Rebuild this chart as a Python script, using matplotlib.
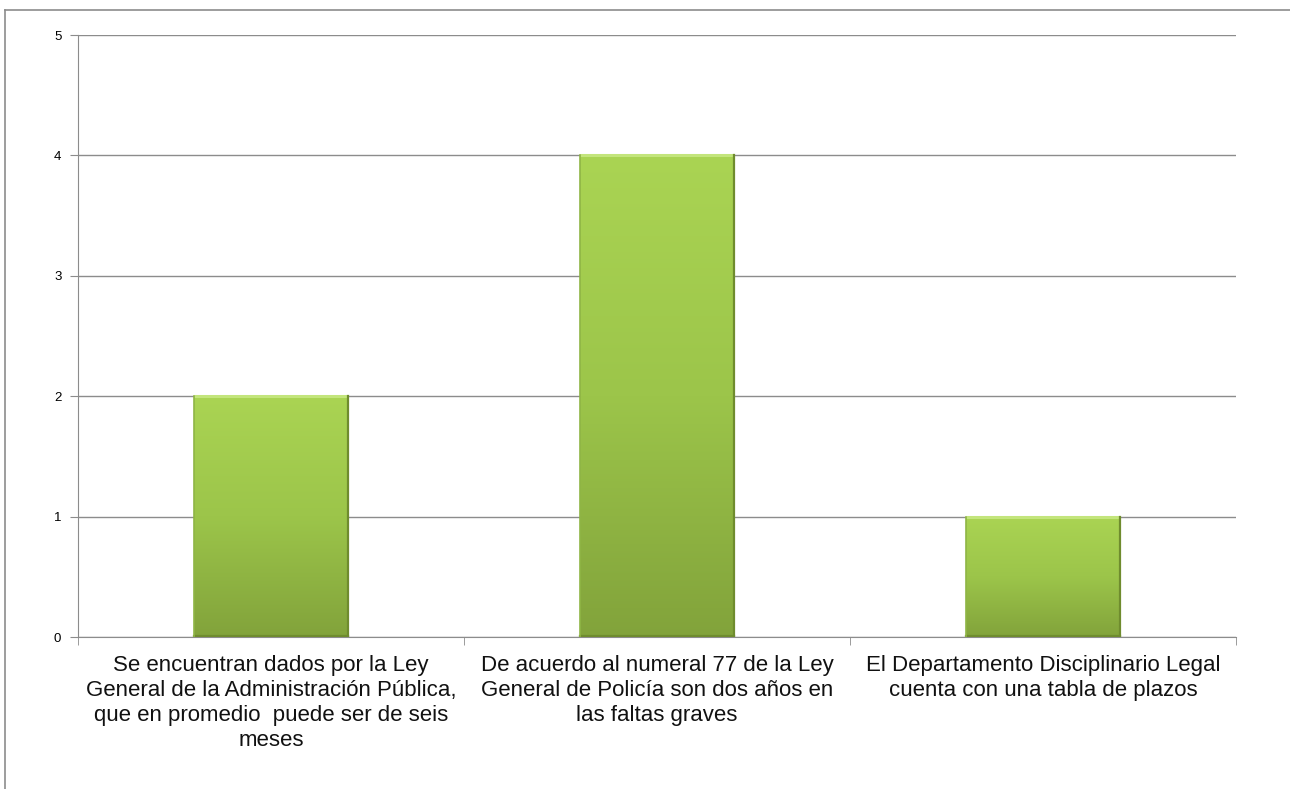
import numpy as np
import matplotlib.pyplot as plt
from matplotlib.lines import Line2D
from matplotlib.colors import LinearSegmentedColormap

plt.rcParams['font.family'] = ['Liberation Sans', 'DejaVu Sans']

categorias = [
    "Se encuentran dados por la Ley\nGeneral de la Administración Pública,\nque en promedio  puede ser de seis\nmeses",
    "De acuerdo al numeral 77 de la Ley\nGeneral de Policía son dos años en\nlas faltas graves",
    "El Departamento Disciplinario Legal\ncuenta con una tabla de plazos",
]
valores = [2, 4, 1]
y_ticks = [0, 1, 2, 3, 4, 5]

W, H = 1290, 789
fig = plt.figure(figsize=(W / 100, H / 100), dpi=100)
ax = fig.add_axes([78 / W, 1 - 637 / H, (1236 - 78) / W, (637 - 35) / H])

x = np.arange(len(valores))
ancho = 0.4
bars = ax.bar(x, valores, width=ancho, color="#98c24a", edgecolor="none", zorder=3)

# degradado vertical dentro de cada barra, con bisel sencillo
grad = np.linspace(0, 1, 256).reshape(-1, 1)
cmap = LinearSegmentedColormap.from_list("verde", ["#aad453", "#9cc54a", "#82a33b"])
for b in bars:
    x0, w, h = b.get_x(), b.get_width(), b.get_height()
    im = ax.imshow(grad, cmap=cmap, aspect="auto", extent=(x0, x0 + w, 0, h),
                   origin="upper", zorder=3.5)
    im.set_clip_path(b)
    ax.plot([x0, x0 + w], [h, h], color="#c3e57c", lw=2.2, zorder=4, solid_capstyle="butt")
    ax.plot([x0 + w, x0 + w], [0, h], color="#6f8c2e", lw=1.6, zorder=4)
    ax.plot([x0, x0 + w], [0.008, 0.008], color="#6f8c2e", lw=1.6, zorder=4)
    ax.plot([x0, x0], [0, h], color="#8fb545", lw=1.2, zorder=4)

ax.set_xlim(-0.5, len(valores) - 0.5)
ax.set_ylim(0, 5)
ax.set_yticks(y_ticks)
ax.yaxis.grid(True, color="#8c8c8c", linewidth=1.0, zorder=0)
ax.set_axisbelow(True)

for s in ["top", "right"]:
    ax.spines[s].set_visible(False)
ax.spines["left"].set_color("#8c8c8c")
ax.spines["bottom"].set_color("#8c8c8c")

ax.set_xticks(x)
ax.set_xticklabels(categorias, fontsize=16, color="#111111", linespacing=1.25)
ax.tick_params(axis="x", length=0, pad=13)
ax.set_xticks(np.arange(-0.5, len(valores)), minor=True)
ax.tick_params(axis="x", which="minor", length=6, color="#8c8c8c")
ax.tick_params(axis="y", labelsize=9.5, length=6, color="#8c8c8c", pad=6)

# borde del área del gráfico
fig.add_artist(Line2D([5 / W, 1], [1 - 10 / H, 1 - 10 / H], color="#8c8c8c", lw=1.2))
fig.add_artist(Line2D([5 / W, 5 / W], [0, 1 - 10 / H], color="#8c8c8c", lw=1.2))

fig.savefig("out.png", dpi=100)
